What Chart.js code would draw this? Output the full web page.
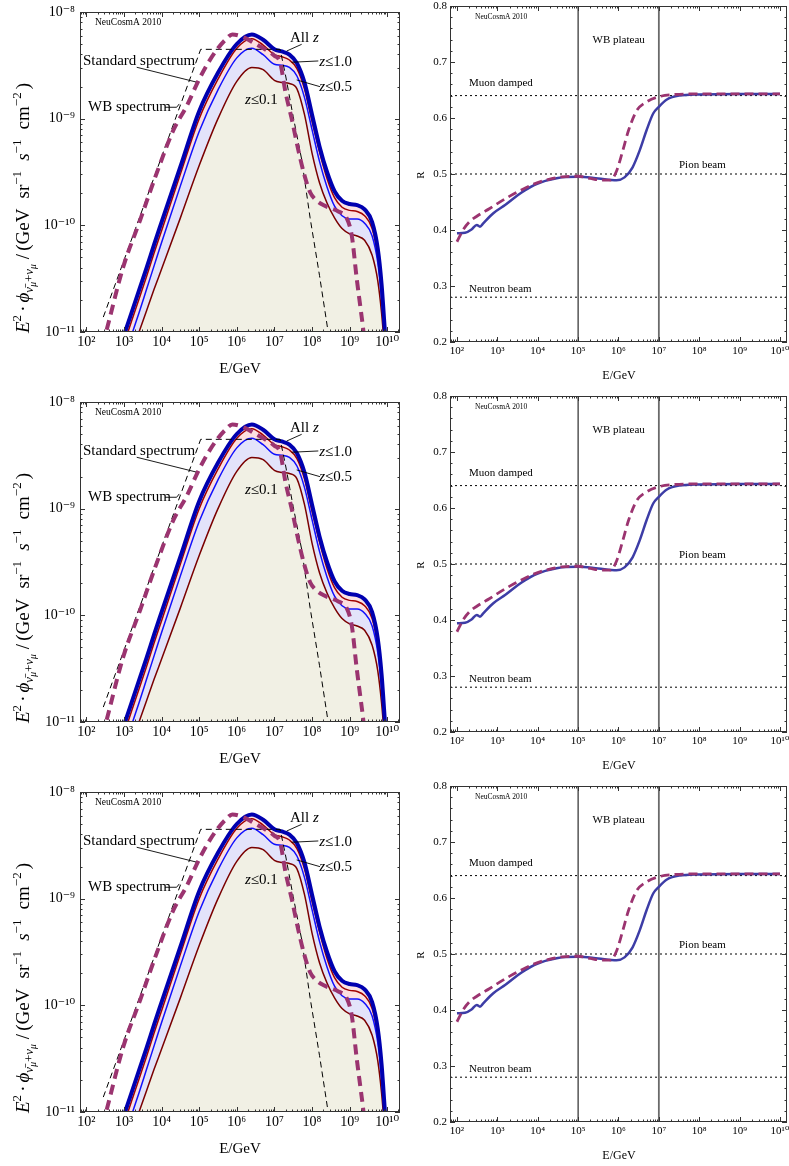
<!DOCTYPE html>
<html><head><meta charset="utf-8">
<script src="https://cdn.jsdelivr.net/npm/chart.js@4.4.1/dist/chart.umd.min.js"></script>
<style>
body{margin:0;background:#fff;width:789px;height:1166px;position:relative;overflow:hidden}
canvas{position:absolute}
</style></head><body>
<script>
// ---------- data: left panels (log10 E/GeV, log10 flux) ----------
const bandLogE = [3.0,3.2,3.4,3.6,3.8,4.0,4.5,5.0,5.5,6.0,6.4,6.7,7.0,7.2,7.4,7.6,7.8,8.0,8.2,8.4,8.6,8.8,9.0,9.2,9.4,9.6,9.75,9.85,9.95,10.0];
const fluxAllZ = [-11.03,-10.82,-10.61,-10.40,-10.18,-9.97,-9.45,-8.93,-8.57,-8.30,-8.21,-8.26,-8.35,-8.37,-8.40,-8.48,-8.66,-8.96,-9.26,-9.50,-9.68,-9.77,-9.80,-9.81,-9.85,-9.97,-10.22,-10.55,-11.05,-11.3];
const fluxZ10 = [-11.11,-10.90,-10.69,-10.48,-10.26,-10.05,-9.52,-9.00,-8.63,-8.34,-8.25,-8.31,-8.40,-8.42,-8.45,-8.53,-8.72,-9.02,-9.31,-9.56,-9.74,-9.83,-9.86,-9.87,-9.91,-10.03,-10.28,-10.60,-11.10,-11.35];
const fluxZ05 = [-11.24,-11.03,-10.82,-10.60,-10.38,-10.16,-9.63,-9.12,-8.73,-8.43,-8.34,-8.40,-8.49,-8.50,-8.52,-8.60,-8.80,-9.10,-9.40,-9.64,-9.82,-9.91,-9.94,-9.94,-9.98,-10.10,-10.35,-10.68,-11.15,-11.4];
const fluxZ01 = [-11.40,-11.20,-11.00,-10.80,-10.60,-10.41,-9.93,-9.44,-9.00,-8.65,-8.52,-8.54,-8.64,-8.66,-8.67,-8.72,-8.96,-9.32,-9.60,-9.79,-9.93,-10.03,-10.08,-10.10,-10.14,-10.28,-10.52,-10.82,-11.25,-11.5];
const stdLogE = [2.54,2.98,3.43,3.87,4.31,4.67,5.0,5.25,5.5,5.7,5.88,6.2,6.5,6.8,7.0,7.15,7.3,7.46,7.64,7.8,7.95,8.1,8.3,8.5,8.7,8.92,9.06,9.19,9.3,9.37,9.42];
const stdLogF = [-10.98,-10.39,-9.95,-9.51,-9.11,-8.88,-8.63,-8.47,-8.34,-8.26,-8.21,-8.24,-8.30,-8.36,-8.41,-8.47,-8.76,-9.00,-9.30,-9.53,-9.69,-9.76,-9.81,-9.84,-9.87,-9.93,-10.10,-10.50,-10.80,-11.00,-11.2];
const wbLogE = [2.45,5.04,7.15,7.2,7.3,7.41,7.5,7.73,7.95,8.2,8.43];
const wbLogF = [-10.86,-8.35,-8.35,-8.43,-8.60,-8.81,-8.98,-9.39,-9.93,-10.47,-11.0];
const fluxTickExp = [-11,-10,-9,-8];
const energyTickExp = [2,3,4,5,6,7,8,9,10];
const leftRange = {xMin:1.83, xMax:10.341, yMin:-11, yMax:-8};

// ---------- data: right panels (log10 E/GeV, flavour ratio R) ----------
const rBlueLogE = [2.0,2.2,2.36,2.49,2.57,2.65,2.9,3.2,3.6,4.0,4.5,5.0,5.5,5.95,6.15,6.35,6.53,6.7,6.86,7.0,7.2,7.5,8.0,9.0,10.0];
const rBlue = [0.394,0.395,0.401,0.409,0.406,0.412,0.430,0.445,0.467,0.483,0.493,0.495,0.492,0.489,0.494,0.512,0.543,0.579,0.608,0.620,0.633,0.640,0.642,0.643,0.643];
const rMagLogE = [2.0,2.15,2.3,2.5,2.8,3.2,3.5,3.9,4.3,4.6,5.0,5.3,5.6,5.8,5.95,6.1,6.25,6.45,6.7,7.0,7.4,8.0,9.0,10.0];
const rMag = [0.379,0.400,0.414,0.425,0.438,0.456,0.468,0.482,0.491,0.495,0.496,0.492,0.489,0.489,0.505,0.540,0.578,0.613,0.629,0.638,0.642,0.643,0.643,0.643];
const beamLevels = [0.64, 0.5, 0.28];
const plateauEdgesExp = [5, 7];
const ratioTicks = [0.2,0.3,0.4,0.5,0.6,0.7,0.8];
const rightRange = {xMin:1.827, xMax:10.174, yMin:0.2, yMax:0.8};

// ---------- styling ----------
const SERIF = '"Liberation Serif","DejaVu Serif",serif';
const MAG = '#9b3470';
const SUP = {'0':'⁰','1':'¹','2':'²','3':'³','4':'⁴','5':'⁵','6':'⁶','7':'⁷','8':'⁸','9':'⁹','-':'⁻'};
const sup = s => String(s).replace(/[-0-9]/g, c => SUP[c]);
const pow10Label = v => '10' + sup(Math.round(Math.log10(v)));
const pts = (ex, ey, logY=true) => ex.map((e,i)=>({x:Math.pow(10,e), y: logY ? Math.pow(10,ey[i]) : ey[i]}));

function logTicks(lo, hi){
  const out=[];
  for(let k=Math.floor(lo);k<=Math.ceil(hi);k++) for(let m=1;m<=9;m++){
    const v=m*Math.pow(10,k), l=Math.log10(v);
    if(l>=lo-1e-9 && l<=hi+1e-9) out.push([v,m===1]);
  }
  return out;
}
function linTicks(lo, hi, step, majorStep){
  const out=[]; const n=Math.round((hi-lo)/step);
  for(let i=0;i<=n;i++){ const v=lo+i*step; out.push([v, Math.abs(v/majorStep-Math.round(v/majorStep))<1e-6]); }
  return out;
}
function drawRuns(ctx, runs, x, y, align, target){
  let w=0, gw=0;
  runs.forEach(r=>{ctx.font=(r.it?'italic ':'')+r.s+'px '+SERIF; w+=ctx.measureText(r.t).width; gw+=(r.g||0);});
  let extra = (target && gw>0) ? Math.max(0,(target-w)/gw) : 0;
  const tw = w + extra*gw;
  let cx = align==='center'? x-tw/2 : align==='right'? x-tw : x;
  runs.forEach(r=>{cx += (r.g||0)*extra; ctx.font=(r.it?'italic ':'')+r.s+'px '+SERIF; ctx.fillText(r.t,cx,y+(r.dy||0)); cx+=ctx.measureText(r.t).width;});
}

function decor(spec){
  return {id:'decor', afterDatasetsDraw(chart){
    const {ctx, chartArea:a, scales:{x,y}} = chart;
    ctx.save();
    ctx.strokeStyle='#333'; ctx.lineWidth=1; ctx.setLineDash([]);
    ctx.beginPath();
    spec.xTicks.forEach(([v,maj])=>{const p=Math.round(x.getPixelForValue(v))+0.5; if(p<a.left||p>a.right)return; const L=maj?5:2.5;
      ctx.moveTo(p,a.bottom);ctx.lineTo(p,a.bottom-L);ctx.moveTo(p,a.top);ctx.lineTo(p,a.top+L);});
    spec.yTicks.forEach(([v,maj])=>{const p=Math.round(y.getPixelForValue(v))+0.5; if(p<a.top-1||p>a.bottom+1)return; const L=maj?5:2.5;
      ctx.moveTo(a.left,p);ctx.lineTo(a.left+L,p);ctx.moveTo(a.right,p);ctx.lineTo(a.right-L,p);});
    ctx.stroke();
    ctx.strokeRect(a.left+0.5,a.top+0.5,a.width-1,a.height-1);
    // leader lines
    ctx.strokeStyle='#000'; ctx.lineWidth=0.9;
    (spec.leaders||[]).forEach(L=>{ctx.beginPath(); L.forEach(([e,f],i)=>{const px=x.getPixelForValue(Math.pow(10,e)), py=y.getPixelForValue(spec.yv(f)); i?ctx.lineTo(px,py):ctx.moveTo(px,py);}); ctx.stroke();});
    // notes
    ctx.fillStyle='#000'; ctx.textBaseline='middle';
    (spec.notes||[]).forEach(n=>{drawRuns(ctx,n.runs,x.getPixelForValue(Math.pow(10,n.e)),y.getPixelForValue(spec.yv(n.f)),n.align||'left');});
    // axis titles
    ctx.textBaseline='alphabetic';
    drawRuns(ctx, spec.xTitle.runs, spec.xTitle.x, spec.xTitle.y, 'center');
    ctx.translate(spec.yTitle.x, spec.yTitle.y); ctx.rotate(-Math.PI/2);
    drawRuns(ctx, spec.yTitle.runs, 0, 0, 'center', spec.yTitle.w);
    ctx.restore();
  }};
}

function baseScale(range, isX, ticksArr, labelFn, fontSize, pad, fitSize){
  return {
    type: isX||range.log ? 'logarithmic':'linear',
    position: isX?'bottom':'left',
    min: range.min, max: range.max,
    grid:{display:false, drawTicks:false}, border:{display:false},
    afterBuildTicks: s => { s.ticks = ticksArr.map(v=>({value:v})); },
    ticks:{autoSkip:false, maxRotation:0, minRotation:0, padding:pad, color:'#000', font:{family:SERIF,size:fontSize}, callback: v => labelFn(v)},
    afterFit: s => { if(isX) s.height=fitSize; else s.width=fitSize; s.paddingLeft=0; s.paddingRight=0; s.paddingTop=0; s.paddingBottom=0; }
  };
}

function leftConfig(){
  const line = (data,color,w,extra) => Object.assign({data, borderColor:color, borderWidth:w, pointRadius:0, fill:false, cubicInterpolationMode:'monotone', clip:0}, extra||{});
  return {
    type:'line',
    data:{datasets:[
      line(pts(stdLogE,stdLogF), MAG, 4, {label:'Standard spectrum', borderDash:[10,6]}),
      line(pts(wbLogE,wbLogF), '#000', 1, {label:'WB spectrum', borderDash:[6,4], cubicInterpolationMode:'default', tension:0}),
      line(pts(bandLogE,fluxAllZ), '#0000b0', 4, {label:'All z', fill:3, backgroundColor:'#fbe4e6'}),
      line(pts(bandLogE,fluxZ10), '#a00000', 1.5, {label:'z≤1.0', fill:4, backgroundColor:'#fcdfe0'}),
      line(pts(bandLogE,fluxZ05), '#1010ff', 1.5, {label:'z≤0.5', fill:5, backgroundColor:'#e3e3fa'}),
      line(pts(bandLogE,fluxZ01), '#7a0000', 1.5, {label:'z≤0.1', fill:'start', backgroundColor:'#f1f0e4'})
    ]},
    options:{
      responsive:false, animation:false, events:[],
      layout:{padding:{left:0,right:5,top:12,bottom:0}},
      plugins:{legend:{display:false}, tooltip:{enabled:false}, filler:{drawTime:'beforeDatasetsDraw'}},
      scales:{
        x: baseScale({min:Math.pow(10,leftRange.xMin),max:Math.pow(10,leftRange.xMax)}, true, energyTickExp.map(e=>Math.pow(10,e)), pow10Label, 14, 2, 53),
        y: baseScale({log:true,min:Math.pow(10,leftRange.yMin),max:Math.pow(10,leftRange.yMax)}, false, fluxTickExp.map(e=>Math.pow(10,e)), pow10Label, 14, 5, 80)
      }
    },
    plugins:[decor({
      yv: f=>Math.pow(10,f),
      xTicks: logTicks(leftRange.xMin,leftRange.xMax),
      yTicks: logTicks(leftRange.yMin,leftRange.yMax),
      leaders:[
        [[7.726,-8.303],[7.327,-8.366]],
        [[8.168,-8.459],[7.46,-8.471]],
        [[8.213,-8.70],[7.593,-8.637]],
        [[3.338,-8.518],[4.915,-8.656]],
        [[4.09,-8.893],[4.40,-8.893],[4.47,-8.862]]
      ],
      notes:[
        {runs:[{t:'NeuCosmA 2010',s:9.5}], e:2.229, f:-8.103},
        {runs:[{t:'Standard spectrum',s:15}], e:1.910, f:-8.459},
        {runs:[{t:'WB spectrum',s:15}], e:2.043, f:-8.890},
        {runs:[{t:'All ',s:15},{t:'z',s:15,it:1}], e:7.415, f:-8.244},
        {runs:[{t:'z',s:15,it:1},{t:'≤1.0',s:15}], e:8.19, f:-8.469},
        {runs:[{t:'z',s:15,it:1},{t:'≤0.5',s:15}], e:8.19, f:-8.703},
        {runs:[{t:'z',s:15,it:1},{t:'≤0.1',s:15}], e:6.218, f:-8.825}
      ],
      xTitle:{x:240, y:373, runs:[{t:'E/GeV',s:15}]},
      yTitle:{x:29, y:208, w:250, runs:[
        {t:'E',s:19,it:1},{t:'2',s:13,dy:-8},{t:'·',s:19,g:0.3},{t:'ϕ',s:19,it:1,g:0.3},
        {t:'ν̄',s:13,it:1,dy:4},{t:'μ',s:9.5,it:1,dy:7},{t:'+',s:13,dy:4},{t:'ν',s:13,it:1,dy:4},{t:'μ',s:9.5,it:1,dy:7},
        {t:'/',s:19,g:0.5},{t:'(',s:19,g:0.3},{t:'GeV',s:19},{t:'sr',s:19,g:1},{t:'−1',s:13,dy:-8},{t:'s',s:19,it:1,g:1},{t:'−1',s:13,dy:-8},{t:'cm',s:19,g:1},{t:'−2',s:13,dy:-8},{t:')',s:19,g:0.3}
      ]}
    })]
  };
}

function rightConfig(){
  const xMin=Math.pow(10,rightRange.xMin), xMax=Math.pow(10,rightRange.xMax);
  const line = (data,color,w,extra) => Object.assign({data, borderColor:color, borderWidth:w, pointRadius:0, fill:false, cubicInterpolationMode:'monotone', clip:0}, extra||{});
  const ds = [
    line(pts(rMagLogE,rMag,false), MAG, 2.8, {label:'dashed', borderDash:[9,5]}),
    line(pts(rBlueLogE,rBlue,false), '#3d3da6', 2.5, {label:'solid'})
  ];
  beamLevels.forEach(l=>ds.push(line([{x:xMin,y:l},{x:xMax,y:l}], '#000', 1, {borderDash:[2,3], tension:0, cubicInterpolationMode:'default'})));
  plateauEdgesExp.forEach((e,i)=>ds.push(line([{x:Math.pow(10,e),y:rightRange.yMin},{x:Math.pow(10,e),y:rightRange.yMax}], i?'#6a6a6a':'#000', i?1.8:1, {tension:0, cubicInterpolationMode:'default'})));
  return {
    type:'line',
    data:{datasets:ds},
    options:{
      responsive:false, animation:false, events:[],
      layout:{padding:{left:0,right:2,top:6,bottom:0}},
      plugins:{legend:{display:false}, tooltip:{enabled:false}},
      scales:{
        x: baseScale({min:xMin,max:xMax}, true, energyTickExp.filter(e=>e>=2).map(e=>Math.pow(10,e)), pow10Label, 11, 3, 43),
        y: baseScale({min:rightRange.yMin,max:rightRange.yMax}, false, ratioTicks, v=>v.toFixed(1), 11, 3, 45)
      }
    },
    plugins:[decor({
      yv: f=>f,
      xTicks: logTicks(rightRange.xMin,rightRange.xMax),
      yTicks: linTicks(0.2,0.8,0.02,0.1),
      notes:[
        {runs:[{t:'NeuCosmA 2010',s:7.5}], e:2.446, f:0.7804},
        {runs:[{t:'WB plateau',s:11}], e:6.005, f:0.7393, align:'center'},
        {runs:[{t:'Muon damped',s:11}], e:2.297, f:0.6625},
        {runs:[{t:'Pion beam',s:11}], e:7.498, f:0.5161},
        {runs:[{t:'Neutron beam',s:11}], e:2.297, f:0.2946}
      ],
      xTitle:{x:214, y:379, runs:[{t:'E/GeV',s:12}]},
      yTitle:{x:19, y:175, runs:[{t:'R',s:11}]}
    })]
  };
}

for(let r=0;r<3;r++){
  const cl=document.createElement('canvas'); cl.width=405; cl.height=385; cl.style.left='0px'; cl.style.top=(r*390)+'px';
  document.body.appendChild(cl); new Chart(cl, leftConfig());
  const cr=document.createElement('canvas'); cr.width=384; cr.height=385; cr.style.left='405px'; cr.style.top=(r*390)+'px';
  document.body.appendChild(cr); new Chart(cr, rightConfig());
}
</script>
</body></html>
